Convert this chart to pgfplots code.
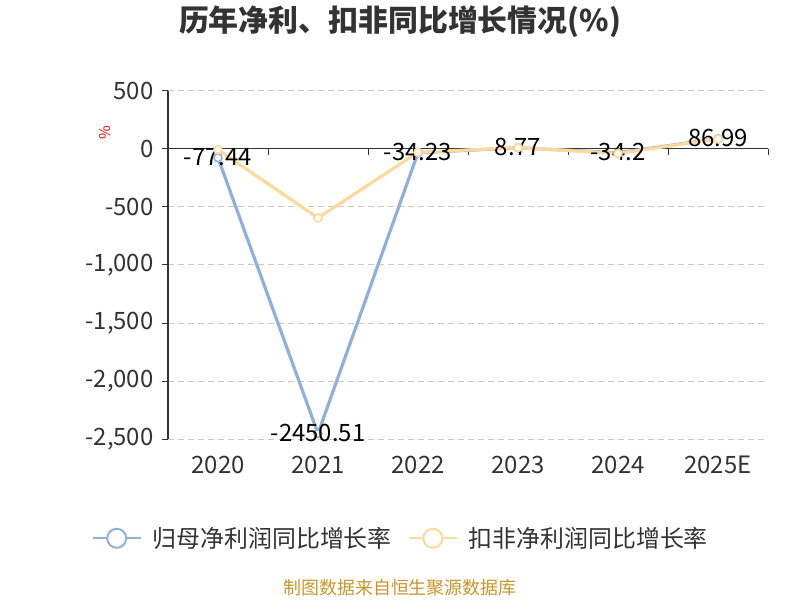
\documentclass[border=0pt]{standalone}
\usepackage{fontspec}
\setmainfont{Noto Sans CJK SC}
\usepackage{pgfplots}
\pgfplotsset{compat=1.18}

\definecolor{blueline}{HTML}{8EB0DC}
\definecolor{orangeline}{HTML}{FDD99B}
\definecolor{txt}{HTML}{333333}
\definecolor{gridc}{HTML}{C8C8C8}
\definecolor{src}{HTML}{C9952B}

\begin{document}
\begin{tikzpicture}[x=1bp,y=1bp]
\path[use as bounding box] (0,0) rectangle (800,600);

\begin{axis}[
  at={(168bp,160.7bp)},
  anchor=south west,
  scale only axis,
  width=600bp,
  height=348.6bp,
  xmin=-0.5, xmax=5.5,
  ymin=-2500, ymax=500,
  xtick={0,1,2,3,4,5},
  xticklabels={2020,2021,2022,2023,2024,2025E},
  ytick={-2500,-2000,-1500,-1000,-500,0,500},
  axis x line*=bottom,
  axis y line*=left,
  x axis line style={draw=none},
  y axis line style={draw=txt, line width=1.2pt},
  x tick style={draw=none},
  y tick style={draw=txt, line width=1pt},
  tick align=outside,
  major tick length=6bp,
  ymajorgrids,
  major grid style={gridc, line width=1pt, dash pattern=on 6bp off 4bp},
  ticklabel style={font=\fontsize{24}{27}\selectfont, text=txt},
  /pgf/number format/assume math mode=true,
  /pgf/number format/1000 sep={,},
  xticklabel style={yshift=-7bp},
  yticklabel style={xshift=-5bp},
  clip=false,
  legend columns=2,
  legend style={
    at={(0.388,-0.284)}, anchor=center,
    draw=none, fill=none,
    font=\fontsize{24}{27}\selectfont, text=txt,
    /tikz/every odd column/.append style={column sep=9bp},
    /tikz/every even column/.append style={column sep=14bp},
  },
  legend image code/.code={
    \draw[#1, mark=none, line width=2pt] (0bp,0bp) -- (48bp,0bp);
    \draw[#1, mark=none, fill=white, line width=2pt] (24bp,0bp) circle (9.5bp);
  },
]
% x axis line at zero with category boundary ticks
\draw[txt, line width=1.2pt] (axis cs:-0.5,0) -- (axis cs:5.5,0);
\pgfplotsinvokeforeach{0.5,1.5,2.5,3.5,4.5,5.5}{
  \draw[txt, line width=1pt] (axis cs:#1,0) -- ([yshift=-6bp]axis cs:#1,0);
}

\addplot[draw=blueline, line width=3.2pt, mark=*, mark size=4bp,
  mark options={fill=white, draw=blueline, line width=1.6pt},
  nodes near coords,
  point meta=explicit symbolic,
  every node near coord/.append style={anchor=center, yshift=1bp,
    font=\fontsize{24}{27}\selectfont, text=black}]
  coordinates {
  (0,-77.44) [-77.44]
  (1,-2450.51) [-2450.51]
  (2,-34.23) [-34.23]
  (3,8.77) [8.77]
  (4,-34.2) [-34.2]
  (5,86.99) [86.99]
};
\addlegendentry{归母净利润同比增长率}

\addplot[draw=orangeline, line width=3.2pt, mark=*, mark size=4bp,
  mark options={fill=white, draw=orangeline, line width=1.6pt}]
  coordinates {
  (0,-8)
  (1,-595)
  (2,-30)
  (3,10)
  (4,-40)
  (5,85)
};
\addlegendentry{扣非净利润同比增长率}
\end{axis}

\node[text=red, rotate=90, font=\fontsize{15}{17}\selectfont] at (105,467) {\%};
\node[text=txt, font=\fontsize{30}{34}\selectfont\bfseries] at (400,578) {历年净利、扣非同比增长情况(\%)};
\node[text=src, font=\fontsize{18}{21}\selectfont] at (400,12) {制图数据来自恒生聚源数据库};
\end{tikzpicture}
\end{document}
